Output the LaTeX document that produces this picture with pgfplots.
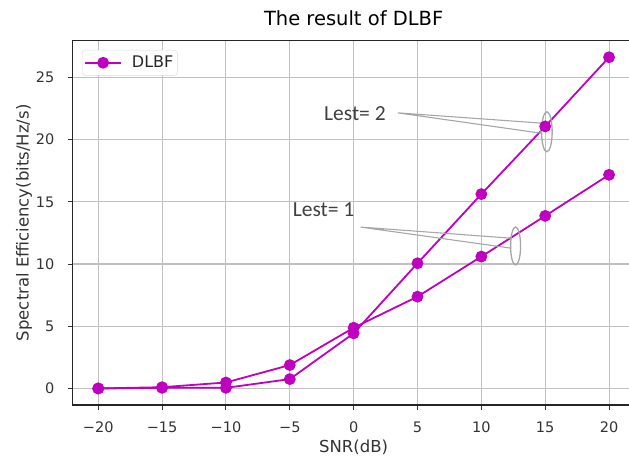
\documentclass[border=0pt]{standalone}
\usepackage{pgfplots}
\pgfplotsset{compat=1.18}
\usepackage{fontspec}
\setmainfont{DejaVu Sans}
\newfontfamily\calfont{Carlito}
\definecolor{mpm}{HTML}{BF00BF}
\definecolor{gridc}{HTML}{C0C0C0}
\definecolor{annc}{HTML}{A6A6A6}
\definecolor{anntext}{HTML}{404040}
\begin{document}
\begin{tikzpicture}
\useasboundingbox (-72.7bp,-52bp) rectangle (556.3bp,405bp);
\begin{axis}[
  name=ax,
  at={(0,0)}, anchor=south west,
  scale only axis,
  width=561.9bp, height=364.3bp,
  xmin=-22, xmax=22, ymin=-1.33, ymax=27.95,
  xtick={-20,-15,...,20},
  xticklabels={−20,−15,−10,−5,0,5,10,15,20},
  ytick={0,5,...,25},
  yticklabels={0,5,10,15,20,25},
  tick align=outside,
  major tick length=4.5bp,
  tick style={black!80, line width=0.9bp},
  xtick pos=bottom, ytick pos=left,
  axis line style={black!85, line width=1.1bp},
  xmajorgrids, ymajorgrids,
  major grid style={gridc, line width=1.1bp},
  ticklabel style={font=\fontsize{14.5bp}{17bp}\selectfont, text=black!80, inner sep=0pt},
  xticklabel style={anchor=base, yshift=-23bp},
  yticklabel style={anchor=east, xshift=-13.7bp},
  title={The result of DLBF},
  title style={font=\fontsize{19.5bp}{22bp}\selectfont, at={(0.5,1)}, anchor=base, yshift=9bp, inner sep=0pt},
  xlabel={SNR(dB)},
  xlabel style={font=\fontsize{16.5bp}{19bp}\selectfont, at={(axis description cs:0.5,0)}, anchor=base, yshift=-47bp, inner sep=0pt, text=black!80},
  legend style={at={(axis description cs:0,1)}, anchor=north west, xshift=9.3bp, yshift=-9.3bp,
    font=\fontsize{16bp}{18bp}\selectfont, draw=black!15, rounded corners=3bp, fill=white,
    inner xsep=2bp, inner ysep=4bp, text=black!85},
  legend cell align=left,
  legend image code/.code={\draw[#1, mark repeat=2, mark phase=2] plot coordinates {(0bp,0bp) (18bp,0bp) (36bp,0bp)};},
]
\addplot[mpm, line width=1.8bp, mark=*, mark size=5bp, mark options={solid, fill=mpm, draw=mpm}] coordinates {(-20,0) (-15,0.05) (-10,0.05) (-5,0.75) (0,4.43) (5,10.06) (10,15.62) (15,21.06) (20,26.62)};
\addlegendentry{\hspace{8bp}DLBF\hspace{4bp}}
\addplot[mpm, line width=1.8bp, mark=*, mark size=5bp, mark options={solid, fill=mpm, draw=mpm}, forget plot] coordinates {(-20,0) (-15,0.1) (-10,0.48) (-5,1.88) (0,4.88) (5,7.38) (10,10.6) (15,13.87) (20,17.17)};
% annotations
\draw[annc, line width=1.1bp] (axis cs:3.46,22.15) -- (axis cs:14.64,21.33) -- (axis cs:14.64,20.52) -- cycle;
\draw[annc, line width=1.3bp] (axis cs:15.13,20.63) ellipse [x radius=5.3bp, y radius=20bp];
\draw[annc, line width=1.1bp] (axis cs:0.54,12.97) -- (axis cs:12.29,12.08) -- (axis cs:12.29,11.28) -- cycle;
\draw[annc, line width=1.3bp] (axis cs:12.68,11.45) ellipse [x radius=5bp, y radius=19bp];
\node[anchor=base west, inner sep=0pt, text=anntext, font=\calfont\fontsize{21.5bp}{24bp}\selectfont] at (axis cs:-2.33,21.57) {Lest= 2};
\node[anchor=base west, inner sep=0pt, text=anntext, font=\calfont\fontsize{21.5bp}{24bp}\selectfont] at (axis cs:-4.78,13.79) {Lest= 1};
\end{axis}
\node[rotate=90, anchor=base, inner sep=0pt, text=black!80, font=\fontsize{16.5bp}{19bp}\selectfont] at ([xshift=-44bp]ax.west) {Spectral Efficiency(bits/Hz/s)};
\end{tikzpicture}
\end{document}
